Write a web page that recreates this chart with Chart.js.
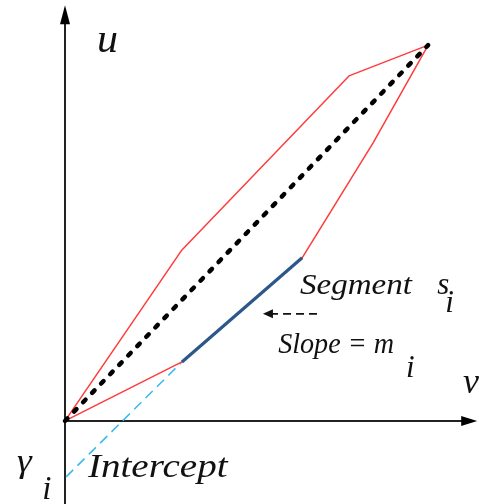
<!DOCTYPE html>
<html>
<head>
<meta charset="utf-8">
<script src="https://cdn.jsdelivr.net/npm/chart.js@4"></script>
<style>
  html, body { margin: 0; padding: 0; background: #fff; }
  #wrap { width: 479px; height: 504px; position: relative; }
</style>
</head>
<body>
<div id="wrap"><canvas id="diagram"></canvas></div>
<script>
// ----------------- data (v, u) -----------------
const upperV = [0, 3.22, 7.82, 10];
const upperU = [0, 4.55, 9.18, 10];

const lowerV = [0, 3.22, 6.53, 8.48, 10];
const lowerU = [0, 1.57, 4.34, 7.39, 10];

// segment s_i (part of the lower curve)
const segmentV = [3.22, 6.53];
const segmentU = [1.57, 4.34];

// extension of the segment down to the u axis (intercept gamma_i)
const interceptV = [0.03, 3.22];
const interceptU = [-1.49, 1.57];

// chord between the end points
const chordV = [0, 10];
const chordU = [0, 10];

// axis extents
const vAxisEnd = 11.35;
const uAxisTop = 11.06;
const uAxisBottom = -2.25;

const pts = (xs, ys) => xs.map((x, i) => ({ x: x, y: ys[i] }));

// ----------------- labels -----------------
const serif = '"Liberation Serif", "DejaVu Serif", serif';
const labels = [
  { text: 'u', x: 0.88, y: 9.81, size: 42, sx: 1 },
  { text: 'v', x: 10.96, y: 0.74, size: 36, sx: 1 },
  { text: 'Segment', x: 6.47, y: 3.37, size: 29, sx: 1.14 },
  { text: 's', x: 10.25, y: 3.37, size: 31, sx: 1 },
  { text: 'i', x: 10.47, y: 2.90, size: 31, sx: 1 },
  { text: 'Slope = m', x: 5.87, y: 1.81, size: 29, sx: 0.97 },
  { text: 'i', x: 9.39, y: 1.17, size: 31, sx: 1 },
  { text: 'γ', x: -1.32, y: -1.36, size: 34, sx: 1.1 },
  { text: 'i', x: -0.63, y: -2.07, size: 33, sx: 1 },
  { text: 'Intercept', x: 0.63, y: -1.49, size: 34, sx: 1.15 }
];

// axes, arrows and text drawn straight on the canvas
const decorations = {
  id: 'decorations',
  beforeDatasetsDraw(chart) {
    const ctx = chart.ctx;
    const xs = chart.scales.x, ys = chart.scales.y;
    const ox = xs.getPixelForValue(0), oy = ys.getPixelForValue(0);
    const xEnd = xs.getPixelForValue(vAxisEnd);
    const yTop = ys.getPixelForValue(uAxisTop);
    const yBot = ys.getPixelForValue(uAxisBottom);
    ctx.save();
    ctx.strokeStyle = '#222';
    ctx.fillStyle = '#000';
    ctx.lineWidth = 2;
    // u axis
    ctx.beginPath();
    ctx.moveTo(ox, yBot);
    ctx.lineTo(ox, yTop + 12);
    ctx.stroke();
    ctx.beginPath();
    ctx.moveTo(ox, yTop);
    ctx.lineTo(ox - 5, yTop + 19);
    ctx.lineTo(ox + 5, yTop + 19);
    ctx.closePath();
    ctx.fill();
    // v axis
    ctx.beginPath();
    ctx.moveTo(ox - 2, oy);
    ctx.lineTo(xEnd - 12, oy);
    ctx.stroke();
    ctx.beginPath();
    ctx.moveTo(xEnd, oy);
    ctx.lineTo(xEnd - 16, oy - 5);
    ctx.lineTo(xEnd - 16, oy + 5);
    ctx.closePath();
    ctx.fill();
    ctx.restore();
  },
  afterDatasetsDraw(chart) {
    const ctx = chart.ctx;
    const xs = chart.scales.x, ys = chart.scales.y;
    ctx.save();
    ctx.fillStyle = '#111';
    ctx.textBaseline = 'alphabetic';
    labels.forEach(l => {
      ctx.save();
      ctx.font = 'italic ' + l.size + 'px ' + serif;
      ctx.translate(xs.getPixelForValue(l.x), ys.getPixelForValue(l.y));
      ctx.scale(l.sx, 1);
      ctx.fillText(l.text, 0, 0);
      ctx.restore();
    });
    // small dashed pointer towards the segment
    const ay = ys.getPixelForValue(2.85);
    const ax0 = xs.getPixelForValue(6.94);
    const ax1 = xs.getPixelForValue(5.45);
    ctx.strokeStyle = '#111';
    ctx.lineWidth = 1.6;
    ctx.setLineDash([8, 5]);
    ctx.beginPath();
    ctx.moveTo(ax0, ay);
    ctx.lineTo(ax1 + 8, ay);
    ctx.stroke();
    ctx.setLineDash([]);
    ctx.beginPath();
    ctx.moveTo(ax1, ay);
    ctx.lineTo(ax1 + 10, ay - 4.5);
    ctx.lineTo(ax1 + 10, ay + 4.5);
    ctx.closePath();
    ctx.fill();
    ctx.restore();
  }
};

// lower "order" is drawn on top
const line = (data, color, width, order, dash, cap) => ({
  data: data,
  showLine: true,
  order: order,
  borderColor: color,
  backgroundColor: color,
  borderWidth: width,
  borderDash: dash || [],
  borderCapStyle: cap || 'butt',
  borderJoinStyle: 'round',
  pointRadius: 0,
  tension: 0,
  fill: false
});

new Chart(document.getElementById('diagram').getContext('2d'), {
  type: 'scatter',
  data: {
    datasets: [
      line(pts(interceptV, interceptU), '#3cb9ec', 1.6, 4, [10, 6]),
      line(pts(upperV, upperU), '#ff3b3b', 1.5, 3),
      line(pts(lowerV, lowerU), '#ff3b3b', 1.5, 2),
      line(pts(segmentV, segmentU), '#2c5889', 3.2, 1),
      line(pts(chordV, chordU), '#000', 4.5, 0, [3.5, 9.5], 'round')
    ]
  },
  options: {
    responsive: true,
    maintainAspectRatio: false,
    animation: false,
    events: [],
    layout: { padding: 0 },
    plugins: { legend: { display: false }, tooltip: { enabled: false } },
    scales: {
      x: { type: 'linear', display: false, min: -1.79, max: 11.40 },
      y: { type: 'linear', display: false, min: -2.21, max: 11.20 }
    }
  },
  plugins: [decorations]
});
</script>
</body>
</html>
